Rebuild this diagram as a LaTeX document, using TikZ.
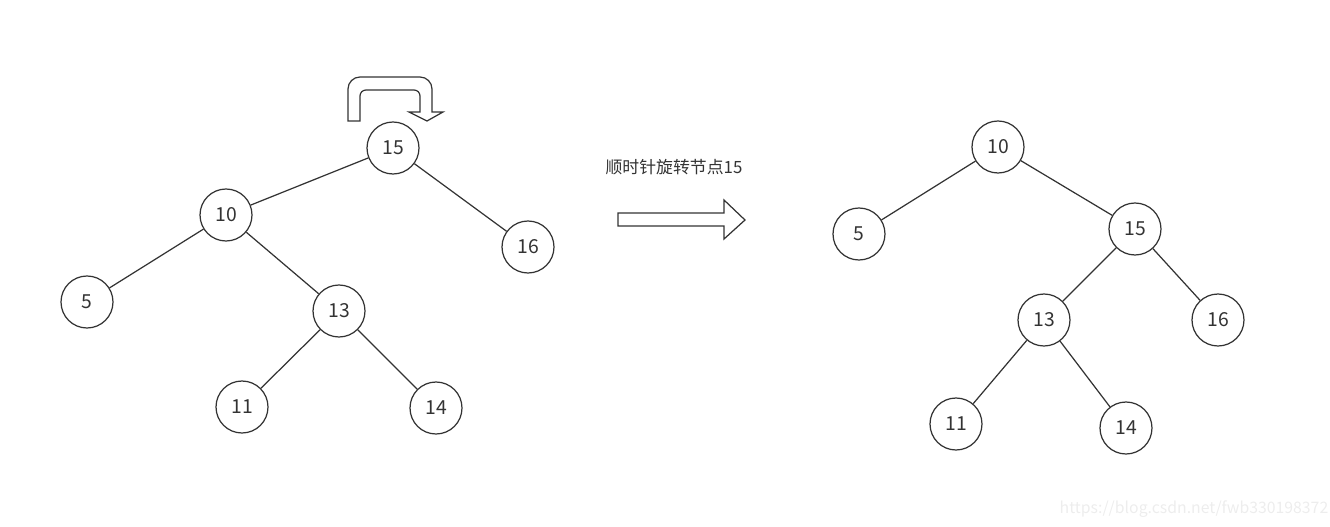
\documentclass[tikz,border=0pt]{standalone}
\usepackage{fontspec}
\setmainfont{Noto Sans CJK SC}
\usepackage{tikz}
\usetikzlibrary{positioning}
\definecolor{InkGray}{HTML}{333333}
\definecolor{MarkGray}{HTML}{EDEDED}

\begin{document}
\begin{tikzpicture}[
  x=0.02cm,y=-0.02cm,
  vtx/.style={draw=InkGray,circle,minimum size=1.04cm,inner sep=0pt,line width=.7pt,text=InkGray,font=\fontsize{11}{13}\selectfont},
  edge/.style={draw=InkGray,line width=.7pt},
  blockarr/.style={draw=InkGray,fill=white,line width=.7pt,line join=miter}
]
\useasboundingbox (0,0) rectangle (1330,527);
% tree before rotation
\node[vtx] (l15) at (393,148) {15};
\node[vtx] (l10) at (226,215) {10};
\node[vtx] (l16) at (528,247) {16};
\node[vtx] (l5) at (87,302) {5};
\node[vtx] (l13) at (339,311) {13};
\node[vtx] (l11) at (242,407) {11};
\node[vtx] (l14) at (436,408) {14};
\draw[edge] (l15) -- (l10);
\draw[edge] (l15) -- (l16);
\draw[edge] (l10) -- (l5);
\draw[edge] (l10) -- (l13);
\draw[edge] (l13) -- (l11);
\draw[edge] (l13) -- (l14);
% rotation mark over 15
\draw[blockarr] (348,121) [rounded corners=0.24cm] -- (348,77) -- (432,77) [sharp corners] -- (432,112) -- (443,112) -- (427,121) -- (409,112) -- (420,112) [rounded corners=0.12cm] -- (420,90) -- (360,90) [sharp corners] -- (360,121) -- cycle;
% transition arrow
\draw[blockarr] (618,213) -- (724,213) -- (724,200) -- (745,220) -- (724,239) -- (724,226) -- (618,226) -- cycle;
\coordinate (turn) at (674,220);
\node[above=7.8mm of turn,text=InkGray,font=\fontsize{9.6}{11}\selectfont] (caption) {顺时针旋转节点15};
% tree after rotation
\node[vtx] (r10) at (998,147) {10};
\node[vtx] (r5) at (859,234) {5};
\node[vtx] (r15) at (1135,229) {15};
\node[vtx] (r13) at (1044,320) {13};
\node[vtx] (r16) at (1218,320) {16};
\node[vtx] (r11) at (956,424) {11};
\node[vtx] (r14) at (1126,428) {14};
\draw[edge] (r10) -- (r5);
\draw[edge] (r10) -- (r15);
\draw[edge] (r15) -- (r13);
\draw[edge] (r15) -- (r16);
\draw[edge] (r13) -- (r11);
\draw[edge] (r13) -- (r14);
\node[text=MarkGray,font=\fontsize{9}{11}\selectfont] (mark) at (1194,509) {https://blog.csdn.net/fwb330198372};
\end{tikzpicture}
\end{document}
